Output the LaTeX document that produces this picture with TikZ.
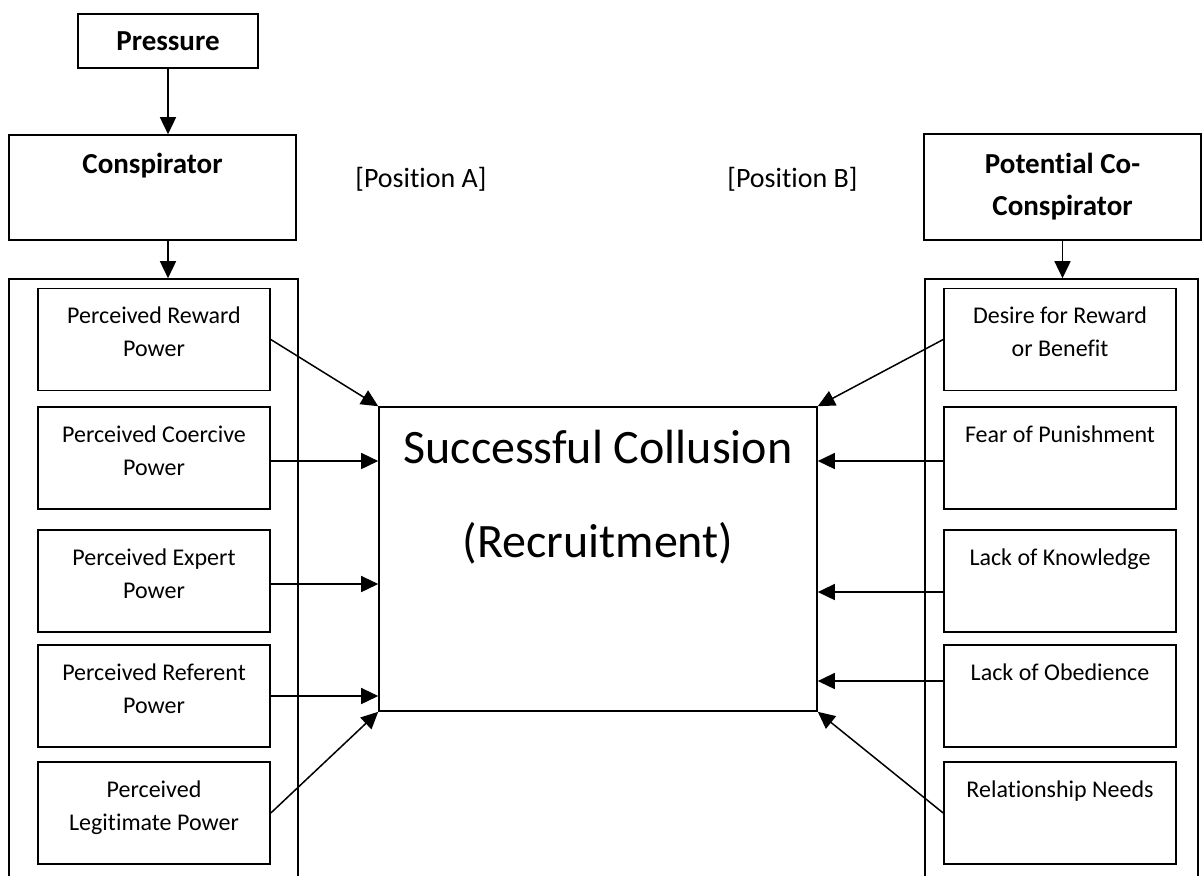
\documentclass[tikz,border=0pt]{standalone}
\usepackage{fontspec}
\setmainfont{Carlito}[Ligatures=NoCommon]
\usetikzlibrary{arrows.meta}
\newcommand{\toptxt}[4]{\parbox[c][#2][t]{#1}{\centering\rule{0pt}{#3}#4}}
\tikzset{
  box/.style={draw, line width=0.8pt, inner sep=0pt},
  inbox/.style={box, font=\fontsize{12}{16.5}\selectfont},
  headbox/.style={box, font=\bfseries\fontsize{14.5}{21}\selectfont},
  arr/.style={line width=0.75pt, -{Triangle[length=8.5pt,width=8pt]}},
}

\begin{document}
\begin{tikzpicture}[x=0.5pt,y=-0.5pt]
		%%%%% START %%%%%
		\useasboundingbox (0,0) rectangle (1202,875);
		\clip (0,0) rectangle (1202,875);
		
		\node[headbox, minimum width=90pt, minimum height=27pt] (pressure) at (168,41) {Pressure};
		\node[headbox] (consp) at (152.5,187.5) {\toptxt{143.5pt}{52.5pt}{19pt}{Conspirator}};
		\node[headbox] (cocon) at (1062.5,187) {\toptxt{138.5pt}{53pt}{19.5pt}{Potential Co-\\Conspirator}};
		
		\node[font=\fontsize{14}{17}\selectfont, anchor=base west, inner sep=0pt] (posa) at (355,187) {[Position A]};
		\node[font=\fontsize{14}{17}\selectfont, anchor=base west, inner sep=0pt] (posb) at (727,187) {[Position B]};
		
		\node[box, minimum width=144.5pt, minimum height=305.5pt] (lcol) at (153.5,584.5) {};
		\node[box, minimum width=136.5pt, minimum height=305.5pt] (rcol) at (1061.5,584.5) {};
		
		\node[inbox] (l1) at (154,339.5) {\toptxt{116pt}{51pt}{17.5pt}{Perceived Reward\\Power}};
		\node[inbox] (l2) at (154,458) {\toptxt{116pt}{51pt}{17.5pt}{Perceived Coercive\\Power}};
		\node[inbox] (l3) at (154,581) {\toptxt{116pt}{51pt}{17.5pt}{Perceived Expert\\Power}};
		\node[inbox] (l4) at (154,696) {\toptxt{116pt}{51pt}{17.5pt}{Perceived Referent\\Power}};
		\node[inbox] (l5) at (154,813) {\toptxt{116pt}{51pt}{17.5pt}{Perceived\\Legitimate Power}};
		
		\node[inbox] (r1) at (1060,339.5) {\toptxt{116pt}{51pt}{17.5pt}{Desire for Reward\\or Benefit}};
		\node[inbox] (r2) at (1060,458) {\toptxt{116pt}{51pt}{17.5pt}{Fear of Punishment}};
		\node[inbox] (r3) at (1060,581) {\toptxt{116pt}{51pt}{17.5pt}{Lack of Knowledge}};
		\node[inbox] (r4) at (1060,696) {\toptxt{116pt}{51pt}{17.5pt}{Lack of Obedience}};
		\node[inbox] (r5) at (1060,813) {\toptxt{116pt}{51pt}{17.5pt}{Relationship Needs}};
		
		\node[box, font=\fontsize{24}{47}\selectfont] (coll) at (598,559) {\toptxt{219pt}{152pt}{28pt}{Successful Collusion\\(Recruitment)}};
		
		\draw[arr] (pressure.south) -- (pressure.south |- consp.north);
		\draw[arr] (pressure.south |- consp.south) -- (pressure.south |- lcol.north);
		\draw[arr] (cocon.south) -- (cocon.south |- rcol.north);
		
		\draw[arr] (l1.east) -- (coll.north west);
		\draw[arr] ([yshift=-1.5pt]l2.east) -- ([yshift=-1.5pt]l2.east -| coll.west);
		\draw[arr] ([yshift=-1.5pt]l3.east) -- ([yshift=-1.5pt]l3.east -| coll.west);
		\draw[arr] (l4.east) -- (l4.east -| coll.west);
		\draw[arr] (l5.east) -- (coll.south west);
		
		\draw[arr] (r1.west) -- (coll.north east);
		\draw[arr] ([yshift=-1.5pt]r2.west) -- ([yshift=-1.5pt]r2.west -| coll.east);
		\draw[arr] ([yshift=-5.5pt]r3.west) -- ([yshift=-5.5pt]r3.west -| coll.east);
		\draw[arr] ([yshift=7.5pt]r4.west) -- ([yshift=7.5pt]r4.west -| coll.east);
		\draw[arr] (r5.west) -- (coll.south east);
		
		%%%%% END %%%%%
\end{tikzpicture}
\end{document}
